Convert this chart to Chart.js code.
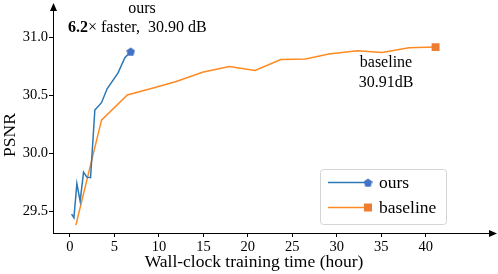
<!DOCTYPE html>
<html>
<head>
<meta charset="utf-8">
<script src="https://cdn.jsdelivr.net/npm/chart.js@4.4.0/dist/chart.umd.min.js"></script>
<style>
  html, body { margin: 0; padding: 0; background: #fff; }
  #wrap { width: 498px; height: 274px; position: relative; }
</style>
</head>
<body>
<div id="wrap"><canvas id="mainChart" width="498" height="274"></canvas></div>
<script>
// Data
const oursTime = [0.19, 0.45, 0.78, 1.15, 1.53, 1.90, 2.32, 2.80, 3.55, 4.18, 5.41, 6.16, 6.83];
const oursPsnr = [29.475, 29.443, 29.738, 29.586, 29.837, 29.794, 29.789, 30.374, 30.437, 30.557, 30.694, 30.823, 30.88];

const baseTime = [0.67, 3.55, 6.45, 9.15, 11.95, 14.9, 17.9, 20.8, 23.7, 26.5, 29.1, 32.3, 35.1, 38.1, 41.1];
const basePsnr = [29.38, 30.286, 30.503, 30.56, 30.62, 30.70, 30.75, 30.715, 30.81, 30.815, 30.857, 30.886, 30.87, 30.912, 30.917];

const xTicks = [0, 5, 10, 15, 20, 25, 30, 35, 40];
const yTicks = [29.5, 30.0, 30.5, 31.0];

const seriesNames = ['ours', 'baseline'];
const xTitle = 'Wall-clock training time (hour)';
const yTitle = 'PSNR';

const serif = '"Liberation Serif", "Times New Roman", serif';
const blueLine = '#2a78b6';
const blueMark = '#4472c4';
const orangeLine = '#ff8a22';
const orangeMark = '#ed7d31';

// pentagon marker for "ours"
function makePentagon(size, color) {
    const c = document.createElement('canvas');
    c.width = size; c.height = size;
    const g = c.getContext('2d');
    const r = size / 2;
    g.beginPath();
    for (let i = 0; i < 5; i++) {
        const a = -Math.PI / 2 + i * 2 * Math.PI / 5;
        const px = r + r * Math.cos(a);
        const py = r + 0.5 + r * Math.sin(a);
        if (i === 0) g.moveTo(px, py); else g.lineTo(px, py);
    }
    g.closePath();
    g.fillStyle = color;
    g.fill();
    return c;
}
const pentagon = makePentagon(9, blueMark);

function toPoints(xs, ys) {
    return xs.map((x, i) => ({ x: x, y: ys[i] }));
}
function lastOnly(n, r) {
    return ctx => (ctx.dataIndex === n - 1 ? r : 0);
}

// axes arrows, titles, annotations, legend
const decorations = {
    id: 'decorations',
    afterDraw(chart) {
        const c = chart.ctx;
        const area = chart.chartArea;
        const xAxisY = Math.round(area.bottom) + 0.5;
        const yAxisX = Math.round(area.left) + 0.5;
        c.save();
        c.strokeStyle = '#000';
        c.fillStyle = '#000';
        c.lineWidth = 1;
        // x axis extension + arrow
        c.beginPath();
        c.moveTo(area.right, xAxisY);
        c.lineTo(490, xAxisY);
        c.stroke();
        c.beginPath();
        c.moveTo(497, xAxisY);
        c.lineTo(489, xAxisY - 3.5);
        c.lineTo(489, xAxisY + 3.5);
        c.closePath();
        c.fill();
        // y axis arrow
        c.beginPath();
        c.moveTo(yAxisX, area.top);
        c.lineTo(yAxisX, 10);
        c.stroke();
        c.beginPath();
        c.moveTo(yAxisX, 3);
        c.lineTo(yAxisX - 3.5, 11);
        c.lineTo(yAxisX + 3.5, 11);
        c.closePath();
        c.fill();

        // axis titles
        c.font = '17.5px ' + serif;
        c.textAlign = 'center';
        c.textBaseline = 'alphabetic';
        c.fillText(xTitle, 254, 267);
        c.save();
        c.translate(15, 135);
        c.rotate(-Math.PI / 2);
        c.fillText(yTitle, 0, 0);
        c.restore();

        // annotations
        c.font = '16px ' + serif;
        c.textAlign = 'center';
        c.fillText('ours', 142, 12.7);
        c.textAlign = 'left';
        c.font = 'bold 16px ' + serif;
        c.fillText('6.2', 68, 31.7);
        const bw = c.measureText('6.2').width;
        c.font = '16px ' + serif;
        c.fillText('\u00d7 faster,  30.90 dB', 68 + bw, 31.7);
        c.textAlign = 'center';
        c.fillText('baseline', 386, 67.3);
        c.fillText('30.91dB', 386, 86.7);

        // legend
        const lx = 320.5, ly = 169.5, lw = 126, lh = 55, rr = 3;
        c.beginPath();
        c.moveTo(lx + rr, ly);
        c.arcTo(lx + lw, ly, lx + lw, ly + lh, rr);
        c.arcTo(lx + lw, ly + lh, lx, ly + lh, rr);
        c.arcTo(lx, ly + lh, lx, ly, rr);
        c.arcTo(lx, ly, lx + lw, ly, rr);
        c.closePath();
        c.fillStyle = 'rgba(255,255,255,0.8)';
        c.fill();
        c.strokeStyle = '#d4d4d4';
        c.stroke();

        const rows = [
            { y: 182.5, line: blueLine, name: seriesNames[0] },
            { y: 207.5, line: orangeLine, name: seriesNames[1] }
        ];
        rows.forEach((row, i) => {
            c.strokeStyle = row.line;
            c.lineWidth = 1.5;
            c.beginPath();
            c.moveTo(328, row.y);
            c.lineTo(368, row.y);
            c.stroke();
            if (i === 0) {
                c.drawImage(pentagon, 368 - 4.5, row.y - 4.5);
            } else {
                c.fillStyle = orangeMark;
                c.fillRect(364, row.y - 4, 8, 8);
            }
            c.fillStyle = '#000';
            c.font = '17.5px ' + serif;
            c.textAlign = 'left';
            c.textBaseline = 'alphabetic';
            c.fillText(row.name, 379, row.y + 5);
        });
        c.restore();
    }
};

const ctx = document.getElementById('mainChart').getContext('2d');
const mainChart = new Chart(ctx, {
    type: 'line',
    data: {
        datasets: [{
            label: seriesNames[0],
            data: toPoints(oursTime, oursPsnr),
            borderColor: blueLine,
            backgroundColor: blueMark,
            borderWidth: 1.5,
            pointStyle: pentagon,
            pointRadius: lastOnly(oursTime.length, 4.5),
            pointHoverRadius: 0,
            tension: 0,
            fill: false
        }, {
            label: seriesNames[1],
            data: toPoints(baseTime, basePsnr),
            borderColor: orangeLine,
            backgroundColor: orangeMark,
            pointBorderColor: orangeMark,
            borderWidth: 1.5,
            pointStyle: 'rect',
            pointRadius: lastOnly(baseTime.length, 5.6),
            pointBorderWidth: 0,
            pointHoverRadius: 0,
            tension: 0,
            fill: false
        }]
    },
    options: {
        responsive: false,
        animation: false,
        events: [],
        layout: {
            padding: { top: 8, right: 4, left: 0, bottom: 0 }
        },
        plugins: {
            legend: { display: false },
            tooltip: { enabled: false }
        },
        scales: {
            x: {
                type: 'linear',
                min: -1.902,
                max: 47.44,
                afterFit: scale => { scale.height = 41; },
                afterBuildTicks: scale => { scale.ticks = xTicks.map(v => ({ value: v })); },
                grid: {
                    drawOnChartArea: false,
                    tickLength: 4,
                    tickColor: '#000',
                    tickWidth: 1
                },
                border: { color: '#000', width: 1 },
                ticks: {
                    color: '#000',
                    font: { family: serif, size: 14.5 },
                    padding: 1,
                    maxRotation: 0
                }
            },
            y: {
                type: 'linear',
                min: 29.3114,
                max: 31.24,
                afterFit: scale => { scale.width = 53; },
                afterBuildTicks: scale => { scale.ticks = yTicks.map(v => ({ value: v })); },
                grid: {
                    drawOnChartArea: false,
                    tickLength: 4,
                    tickColor: '#000',
                    tickWidth: 1
                },
                border: { color: '#000', width: 1 },
                ticks: {
                    color: '#000',
                    font: { family: serif, size: 14.5 },
                    padding: 1,
                    callback: v => v.toFixed(1)
                }
            }
        }
    },
    plugins: [decorations]
});
</script>
</body>
</html>
